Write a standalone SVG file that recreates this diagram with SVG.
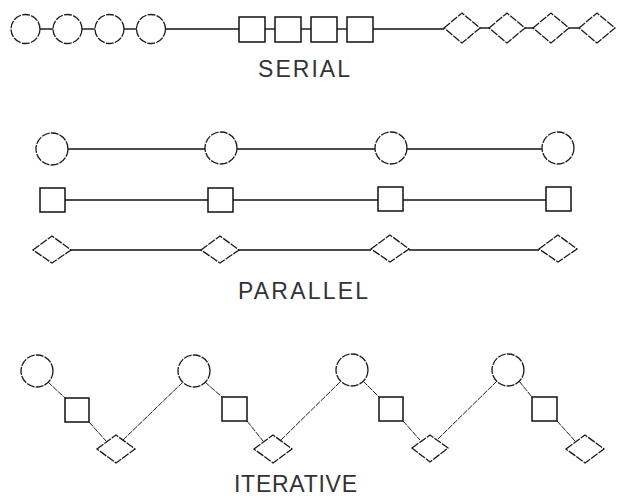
<svg xmlns="http://www.w3.org/2000/svg" width="617" height="499" viewBox="0 0 617 499">
  <style>
    .bg { fill: #ffffff; }
    .circ, .dia { fill: none; stroke: #1a1a1a; stroke-width: 1.3; stroke-dasharray: 8 1.2; }
    .sq { fill: none; stroke: #111111; stroke-width: 1.5; }
    .link { fill: none; stroke: #111111; stroke-width: 1.4; }
    .thin { fill: none; stroke: #222222; stroke-width: 1; stroke-dasharray: 6 1; }
    .label { font-family: "Liberation Sans", Arial, sans-serif; font-size: 23px; fill: #333333; }
  </style>
  <rect class="bg" x="0" y="0" width="617" height="499"/>

  <!-- SERIAL -->
  <g id="connectors-serial">
    <line class="link" x1="40" y1="29" x2="53" y2="29"/>
    <line class="link" x1="82" y1="29" x2="95" y2="29"/>
    <line class="link" x1="124" y1="29" x2="137" y2="29"/>
    <line class="link" x1="165" y1="29" x2="239" y2="29"/>
    <line class="link" x1="265" y1="29" x2="275" y2="29"/>
    <line class="link" x1="301" y1="29" x2="311" y2="29"/>
    <line class="link" x1="337" y1="29" x2="347" y2="29"/>
    <line class="link" x1="373" y1="29" x2="444" y2="29"/>
    <line class="link" x1="480" y1="28" x2="489" y2="28" stroke-width="2"/>
    <line class="link" x1="525" y1="28" x2="533" y2="28" stroke-width="2"/>
    <line class="link" x1="569" y1="28" x2="579" y2="28" stroke-width="2"/>
  </g>
  <g id="s-circle-1"><circle class="circ" cx="25.5" cy="29" r="14.5"/></g>
  <g id="s-circle-2"><circle class="circ" cx="67.5" cy="29" r="14.5"/></g>
  <g id="s-circle-3"><circle class="circ" cx="109.5" cy="29" r="14.5"/></g>
  <g id="s-circle-4"><circle class="circ" cx="151" cy="29" r="14.5"/></g>
  <g id="s-square-1"><rect class="sq" x="239" y="17" width="26" height="25"/></g>
  <g id="s-square-2"><rect class="sq" x="275" y="17" width="26" height="25"/></g>
  <g id="s-square-3"><rect class="sq" x="311" y="17" width="26" height="25"/></g>
  <g id="s-square-4"><rect class="sq" x="347" y="17" width="26" height="25"/></g>
  <g id="s-diamond-1"><polygon class="dia" points="444,28 462,13 480,28 462,43"/></g>
  <g id="s-diamond-2"><polygon class="dia" points="489,28 507,13 525,28 507,43"/></g>
  <g id="s-diamond-3"><polygon class="dia" points="533,28 551,13 569,28 551,43"/></g>
  <g id="s-diamond-4"><polygon class="dia" points="579,28 597,13 615,28 597,43"/></g>
  <text class="label" x="258" y="77" textLength="92" lengthAdjust="spacing">SERIAL</text>

  <!-- PARALLEL -->
  <g id="connectors-parallel">
    <line class="link" x1="68" y1="149" x2="205" y2="149"/>
    <line class="link" x1="237" y1="149" x2="375" y2="149"/>
    <line class="link" x1="407" y1="149" x2="542" y2="149"/>
    <line class="link" x1="65" y1="200" x2="208" y2="200"/>
    <line class="link" x1="233" y1="200" x2="378" y2="200"/>
    <line class="link" x1="403" y1="200" x2="546" y2="200"/>
    <line class="link" x1="71" y1="250" x2="201" y2="250"/>
    <line class="link" x1="239" y1="250" x2="371" y2="250"/>
    <line class="link" x1="409" y1="250" x2="539" y2="250"/>
  </g>
  <g id="p-circle-1"><circle class="circ" cx="52" cy="149" r="16"/></g>
  <g id="p-circle-2"><circle class="circ" cx="221" cy="148" r="16"/></g>
  <g id="p-circle-3"><circle class="circ" cx="391" cy="148" r="16"/></g>
  <g id="p-circle-4"><circle class="circ" cx="558" cy="148" r="16"/></g>
  <g id="p-square-1"><rect class="sq" x="40" y="188" width="25" height="24"/></g>
  <g id="p-square-2"><rect class="sq" x="208" y="188" width="25" height="24"/></g>
  <g id="p-square-3"><rect class="sq" x="378" y="187" width="25" height="24"/></g>
  <g id="p-square-4"><rect class="sq" x="546" y="187" width="25" height="24"/></g>
  <g id="p-diamond-1"><polygon class="dia" points="33,250 52,236 71,250 52,263"/></g>
  <g id="p-diamond-2"><polygon class="dia" points="201,250 220,236 239,250 220,263"/></g>
  <g id="p-diamond-3"><polygon class="dia" points="371,249 390,235 409,249 390,262"/></g>
  <g id="p-diamond-4"><polygon class="dia" points="539,249 558,235 577,249 558,262"/></g>
  <text class="label" x="238" y="299" textLength="130" lengthAdjust="spacing">PARALLEL</text>

  <!-- ITERATIVE -->
  <g id="connectors-iterative">
    <line class="thin" x1="48" y1="382" x2="65" y2="398"/>
    <line class="thin" x1="89" y1="422" x2="106" y2="441"/>
    <line class="thin" x1="123" y1="440" x2="183" y2="382"/>
    <line class="thin" x1="205" y1="382" x2="222" y2="397"/>
    <line class="thin" x1="247" y1="421" x2="263" y2="441"/>
    <line class="thin" x1="281" y1="440" x2="341" y2="381"/>
    <line class="thin" x1="363" y1="381" x2="379" y2="397"/>
    <line class="thin" x1="403" y1="421" x2="420" y2="440"/>
    <line class="thin" x1="438" y1="439" x2="497" y2="381"/>
    <line class="thin" x1="519" y1="381" x2="532" y2="397"/>
    <line class="thin" x1="557" y1="421" x2="575" y2="441"/>
  </g>
  <g id="i-circle-1"><circle class="circ" cx="37" cy="371" r="16"/></g>
  <g id="i-square-1"><rect class="sq" x="65" y="398" width="24" height="24"/></g>
  <g id="i-diamond-1"><polygon class="dia" points="97,449 116,435 135,449 116,463"/></g>
  <g id="i-circle-2"><circle class="circ" cx="194" cy="371" r="16"/></g>
  <g id="i-square-2"><rect class="sq" x="222" y="397" width="25" height="24"/></g>
  <g id="i-diamond-2"><polygon class="dia" points="254,449 273,435 292,449 273,463"/></g>
  <g id="i-circle-3"><circle class="circ" cx="352" cy="370" r="16"/></g>
  <g id="i-square-3"><rect class="sq" x="379" y="397" width="24" height="24"/></g>
  <g id="i-diamond-3"><polygon class="dia" points="412,448 430,435 448,448 430,462"/></g>
  <g id="i-circle-4"><circle class="circ" cx="508" cy="370" r="16"/></g>
  <g id="i-square-4"><rect class="sq" x="532" y="397" width="25" height="24"/></g>
  <g id="i-diamond-4"><polygon class="dia" points="566,449 585,435 604,449 585,463"/></g>
  <text class="label" x="234" y="492" textLength="123" lengthAdjust="spacing">ITERATIVE</text>
</svg>
